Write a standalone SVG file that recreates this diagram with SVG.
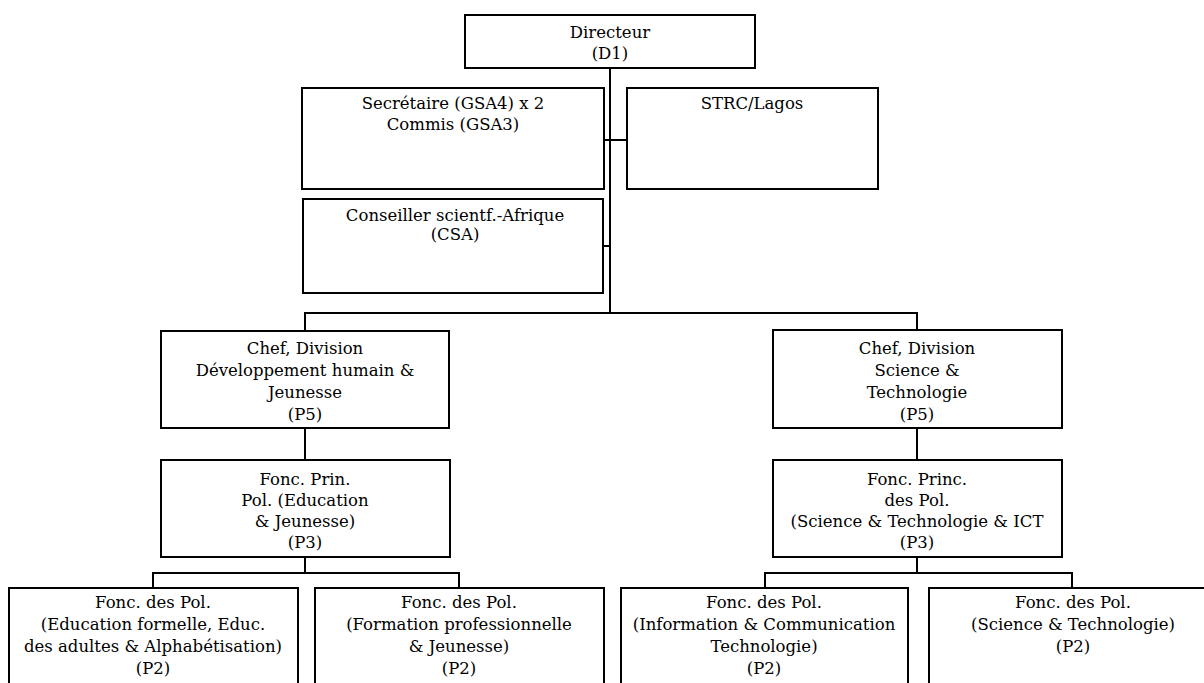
<svg xmlns="http://www.w3.org/2000/svg" width="1204" height="683" viewBox="0 0 1204 683">
<style>
.box{fill:#fff;stroke:#000;stroke-width:2}
.ln{fill:none;stroke:#000;stroke-width:2}
text{font-family:"DejaVu Serif","Liberation Serif",serif;font-size:16.5px;fill:#000;text-anchor:middle}
</style>
<rect width="1204" height="683" fill="#fff"/>
<g id="connectors">
<path class="ln" d="M610 68V313"/>
<path class="ln" d="M604 140H627"/>
<path class="ln" d="M603 246H610"/>
<path class="ln" d="M305 331V313H917V330"/>
<path class="ln" d="M305 428V460"/>
<path class="ln" d="M917 428V460"/>
<path class="ln" d="M305 557V573"/>
<path class="ln" d="M153 588V573H459V588"/>
<path class="ln" d="M917 557V573"/>
<path class="ln" d="M765 588V573H1072V588"/>
</g>
<g id="directeur"><rect class="box" x="465" y="15" width="290" height="53"/><text x="610" y="38">Directeur</text><text x="610" y="59">(D1)</text></g>
<g id="secretaire"><rect class="box" x="302" y="88" width="302" height="101"/><text x="453" y="109">Secrétaire (GSA4) x 2</text><text x="453" y="130">Commis (GSA3)</text></g>
<g id="strc"><rect class="box" x="627" y="88" width="251" height="101"/><text x="752" y="109">STRC/Lagos</text></g>
<g id="csa"><rect class="box" x="303" y="199" width="300" height="94"/><text x="455" y="221">Conseiller scientf.-Afrique</text><text x="455" y="240">(CSA)</text></g>
<g id="chef-dhj"><rect class="box" x="161" y="331" width="288" height="97"/><text x="305" y="354">Chef, Division</text><text x="305" y="376">Développement humain &amp;</text><text x="305" y="398">Jeunesse</text><text x="305" y="420">(P5)</text></g>
<g id="chef-st"><rect class="box" x="773" y="330" width="289" height="98"/><text x="917" y="354">Chef, Division</text><text x="917" y="376">Science &amp;</text><text x="917" y="398">Technologie</text><text x="917" y="420">(P5)</text></g>
<g id="fp-ej"><rect class="box" x="161" y="460" width="289" height="97"/><text x="305" y="485">Fonc. Prin.</text><text x="305" y="506">Pol. (Education</text><text x="305" y="527">&amp; Jeunesse)</text><text x="305" y="548">(P3)</text></g>
<g id="fp-st"><rect class="box" x="773" y="460" width="289" height="97"/><text x="917" y="485">Fonc. Princ.</text><text x="917" y="506">des Pol.</text><text x="917" y="527">(Science &amp; Technologie &amp; ICT</text><text x="917" y="548">(P3)</text></g>
<g id="f-edu"><rect class="box" x="9" y="588" width="289" height="110"/><text x="153" y="608">Fonc. des Pol.</text><text x="153" y="630">(Education formelle, Educ.</text><text x="153" y="652">des adultes &amp; Alphabétisation)</text><text x="153" y="674">(P2)</text></g>
<g id="f-form"><rect class="box" x="315" y="588" width="289" height="110"/><text x="459" y="608">Fonc. des Pol.</text><text x="459" y="630">(Formation professionnelle</text><text x="459" y="652">&amp; Jeunesse)</text><text x="459" y="674">(P2)</text></g>
<g id="f-ict"><rect class="box" x="621" y="588" width="287" height="110"/><text x="764" y="608">Fonc. des Pol.</text><text x="764" y="630">(Information &amp; Communication</text><text x="764" y="652">Technologie)</text><text x="764" y="674">(P2)</text></g>
<g id="f-st"><rect class="box" x="929" y="588" width="289" height="110"/><text x="1073" y="608">Fonc. des Pol.</text><text x="1073" y="630">(Science &amp; Technologie)</text><text x="1073" y="652">(P2)</text></g>
</svg>
